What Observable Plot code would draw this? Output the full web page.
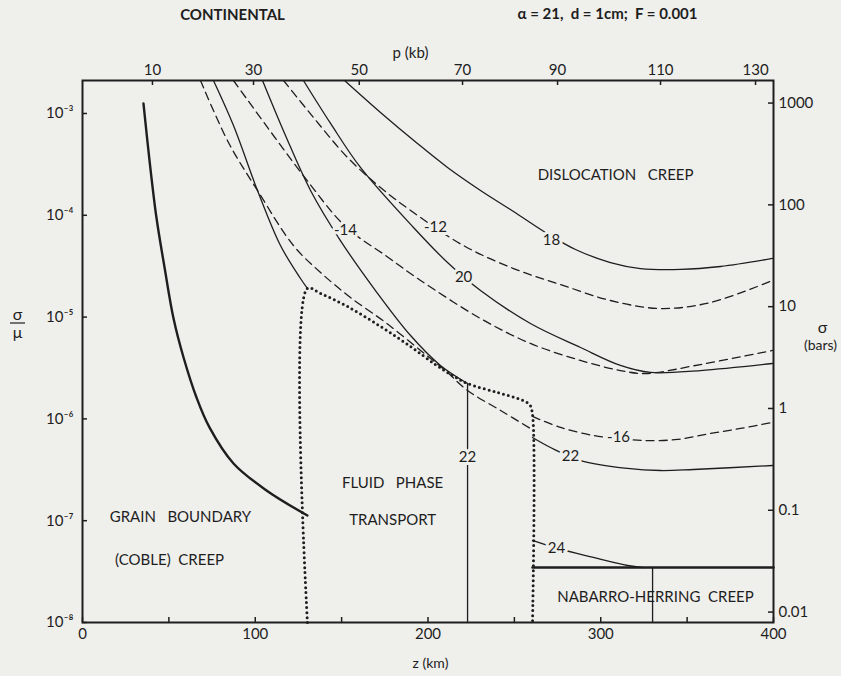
<!DOCTYPE html>
<html><head><meta charset="utf-8">
<script src="https://cdn.jsdelivr.net/npm/d3@7"></script>
<script src="https://cdn.jsdelivr.net/npm/@observablehq/plot@0.6"></script>
<style>
html,body{margin:0;padding:0;background:#efefec;}
#chart svg{display:block;}
</style></head><body><div id="chart"></div>
<script>
// ---------- axes / ticks ----------
const zTicks = [0, 100, 200, 300, 400];
const zMinorTicks = [50, 150, 250, 350];
const stressTicks = [1e-3, 1e-4, 1e-5, 1e-6, 1e-7, 1e-8];
const sigmaBarsTicks = [1000, 100, 10, 1, 0.1, 0.01];
const shearModulusBars = 7.9e5;                 // sigma(bars) = (sigma/mu) * mu
const pressureTicks = [10, 30, 50, 70, 90, 110, 130];          // p (kb)
const pressureTickDepths = [40.5, 99, 160.2, 220, 275, 334.6, 389.6]; // z (km)

// ---------- curves: [z (km), log10(sigma/mu)] ----------
const cobleBoundary = [[35.3,-2.902],[38.8,-3.462],[42.8,-4.022],[47.5,-4.513],[52.7,-5.014],[58.5,-5.397],[66.0,-5.790],[73.5,-6.084],[87.4,-6.438],[106.5,-6.703],[130.2,-6.949]];
const fluidBoundary = [[130.2,-8],[130.2,-4.719],[137.8,-4.768],[153.4,-4.896],[172.5,-5.092],[189.9,-5.289],[204.3,-5.466],[214.2,-5.574],[222.9,-5.652],[240.2,-5.741],[253.5,-5.809],[258.8,-5.859],[260.5,-5.957],[260.5,-8]];
const nabarroBoundary = [[260.5,-7.46],[400,-7.46]];
const nabarroTick = [[330,-7.46],[330,-8]];

const solid18 = [[151.7,-2.676],[172.5,-2.990],[193.9,-3.295],[211.3,-3.530],[230.4,-3.756],[249.5,-3.963],[268.0,-4.169],[285.4,-4.336],[305.6,-4.464],[323.0,-4.523],[346.2,-4.532],[369.3,-4.503],[399.4,-4.424]];
const solid20 = [[127.9,-2.676],[143.6,-3.098],[160.9,-3.530],[191.6,-4.120],[211.3,-4.464],[230.4,-4.739],[259.3,-5.063],[288.3,-5.299],[311.4,-5.475],[328.8,-5.544],[357.7,-5.525],[399.4,-5.456]];
const solid22 = [[104.2,-2.676],[117.5,-3.216],[132.0,-3.756],[149.3,-4.248],[169.6,-4.739],[189.9,-5.181],[207.2,-5.475],[222.9,-5.652]];
const solid22Fluid = [[222.9,-5.652],[222.9,-8]];
const solid22Right = [[260.5,-6.183],[270.9,-6.281],[288.3,-6.409],[315.5,-6.487],[334.6,-6.507],[353.7,-6.497],[399.4,-6.458]];
const solid24 = [[75.8,-2.676],[87.4,-3.118],[101.3,-3.756],[114.6,-4.297],[126.2,-4.621],[130.2,-4.719]];
const solid24Right = [[260.5,-7.194],[275.0,-7.273],[295.8,-7.361],[315.5,-7.440],[324.7,-7.460]];

const dashed12 = [[116.4,-2.676],[133.7,-3.039],[153.4,-3.432],[172.5,-3.727],[191.6,-3.973],[220.5,-4.297],[249.5,-4.523],[276.7,-4.680],[305.6,-4.837],[334.6,-4.916],[363.5,-4.857],[399.4,-4.640]];
const dashed14 = [[87.4,-2.676],[107.1,-3.137],[129.1,-3.638],[152.2,-4.110],[175.4,-4.395],[195.7,-4.640],[230.4,-5.014],[259.3,-5.259],[288.3,-5.426],[311.4,-5.525],[325.9,-5.554],[357.7,-5.466],[399.4,-5.328]];
const dashed16 = [[68.3,-2.676],[84.5,-3.285],[101.3,-3.756],[122.1,-4.297],[137.8,-4.562],[155.1,-4.807],[175.4,-5.053],[195.7,-5.328],[210.1,-5.525],[222.9,-5.721],[242.0,-5.917],[259.3,-6.094]];
const dashed16Right = [[260.5,-5.976],[276.7,-6.084],[295.8,-6.163],[310.3,-6.193],[324.7,-6.212],[344.4,-6.202],[363.5,-6.143],[380.9,-6.094],[399.4,-6.035]];

// ---------- labels: [z, log10(sigma/mu), text] ----------
const contourLabels = [[271.5,-4.248,"18"],[220.6,-4.611,"20"],[204.3,-4.120,"-12"],[152.2,-4.149,"-14"],[222.9,-6.379,"22"],[282.5,-6.369,"22"],[310.3,-6.183,"-16"],[274.4,-7.273,"24"]];
const regionLabels = [[308.6,-3.609,"DISLOCATION\u00a0\u00a0 CREEP"],[56.7,-6.969,"GRAIN\u00a0\u00a0 BOUNDARY"],[50.4,-7.391,"(COBLE)\u00a0\u00a0CREEP"],[179.5,-6.635,"FLUID\u00a0\u00a0 PHASE"],[179.5,-6.998,"TRANSPORT"],[331.7,-7.754,"NABARRO-HERRING\u00a0\u00a0CREEP"]];

// ---------- build ----------
const toRows = (pts, id) => pts.map(([z, l]) => ({z, s: 10 ** l, id}));
const solidRows = [
  ...toRows(solid18,"18"),...toRows(solid20,"20"),...toRows(solid22,"22"),...toRows(solid22Fluid,"22f"),
  ...toRows(solid22Right,"22r"),...toRows(solid24,"24"),...toRows(solid24Right,"24r"),...toRows(nabarroTick,"nt")];
const dashedRows = [...toRows(dashed12,"-12"),...toRows(dashed14,"-14"),...toRows(dashed16,"-16"),...toRows(dashed16Right,"-16r")];
const thickRows = toRows(cobleBoundary,"coble");
const nhRows = toRows(nabarroBoundary,"nh");
const dottedRows = toRows(fluidBoundary,"fluid");
const cLabels = contourLabels.map(([z,l,t]) => ({z, s: 10 ** l, t}));
const rLabels = regionLabels.map(([z,l,t]) => ({z, s: 10 ** l, t}));
const pTable = pressureTicks.map((p, i) => ({p, z: pressureTickDepths[i]}));
const sup = {"-":"\u207b","0":"\u2070","1":"\u00b9","2":"\u00b2","3":"\u00b3","4":"\u2074","5":"\u2075","6":"\u2076","7":"\u2077","8":"\u2078","9":"\u2079"};
const fmtPow = d => "10" + String(Math.round(Math.log10(d))).split("").map(c => sup[c]).join("");

const W = 841, H = 676, mL = 82, mR = 68, mT = 80, mB = 54;
const fw = W - mL - mR, fh = H - mT - mB;
const ink = "#1e1e1e", bg = "#efefec";
const F = "Lato, 'Open Sans', sans-serif";
const note = (txt, dx, dy, o = {}) => Plot.text([txt], {frameAnchor: "top-left", textAnchor: "middle", lineAnchor: "middle", dx, dy, fill: ink, fontSize: 14, ...o});

const chart = Plot.plot({
  width: W, height: H, marginLeft: mL, marginRight: mR, marginTop: mT, marginBottom: mB,
  style: {fontFamily: F, fontSize: "14px", background: bg, color: ink},
  x: {domain: [0, 400], axis: null},
  y: {type: "log", domain: [1e-8, 10 ** -2.676], axis: null},
  marks: [
    Plot.line(dottedRows, {x: "z", y: "s", z: "id", stroke: ink, strokeWidth: 3, strokeDasharray: "0,5", strokeLinecap: "round", curve: "catmull-rom"}),
    Plot.line(dashedRows, {x: "z", y: "s", z: "id", stroke: ink, strokeWidth: 1.3, strokeDasharray: "8,5", curve: "catmull-rom", clip: true}),
    Plot.line(solidRows, {x: "z", y: "s", z: "id", stroke: ink, strokeWidth: 1.3, curve: "catmull-rom", clip: true}),
    Plot.line(thickRows, {x: "z", y: "s", stroke: ink, strokeWidth: 2.4, curve: "catmull-rom"}),
    Plot.line(nhRows, {x: "z", y: "s", stroke: ink, strokeWidth: 2.6}),
    Plot.text(cLabels, {x: "z", y: "s", text: "t", fill: ink, stroke: bg, strokeWidth: 6, paintOrder: "stroke", fontSize: 15}),
    Plot.text(rLabels, {x: "z", y: "s", text: "t", fill: ink, fontSize: 15, ariaLabel: "region"}),
    Plot.frame({stroke: ink, strokeWidth: 2}),
    // inward ticks
    Plot.tickX([...zTicks, ...zMinorTicks], {x: d => d, stroke: ink, strokeWidth: 1.5, insetTop: fh - 5}),
    Plot.tickX(pTable, {x: "z", stroke: ink, strokeWidth: 1.5, insetBottom: fh - 5}),
    Plot.tickY(stressTicks, {y: d => d, stroke: ink, strokeWidth: 1.5, insetRight: fw - 5}),
    Plot.tickY(sigmaBarsTicks, {y: d => d / shearModulusBars, stroke: ink, strokeWidth: 1.5, insetLeft: fw - 5}),
    // tick labels
    Plot.text(zTicks, {x: d => d, text: d => String(d), frameAnchor: "bottom", lineAnchor: "middle", dy: 12, fill: ink, fontSize: 15}),
    Plot.text(pTable, {x: "z", text: d => String(d.p), frameAnchor: "top", lineAnchor: "middle", dy: -10, fill: ink, fontSize: 15}),
    Plot.text(stressTicks, {y: d => d, text: fmtPow, frameAnchor: "left", dx: -9, textAnchor: "end", fill: ink, fontSize: 15}),
    Plot.text(sigmaBarsTicks, {y: d => d / shearModulusBars, text: d => String(d), frameAnchor: "right", dx: 5, textAnchor: "start", fill: ink, fontSize: 15}),
    // axis titles and headings
    note("z (km)", 348, fh + 41),
    note("p (kb)", 328, -27, {fontSize: 15}),
    note("CONTINENTAL", 150, -65, {fontSize: 15, fontWeight: "bold", ariaLabel: "title"}),
    note("\u03b1 = 21,  d = 1cm;  F = 0.001", 525, -66, {fontSize: 15, fontWeight: "bold"}),
    note("\u03c3", -65, 234, {fontSize: 16}),
    note("\u03bc", -65, 252, {fontSize: 16}),
    note("\u03c3", fw + 49, 247, {fontSize: 16}),
    note("(bars)", fw + 47, 265)
  ]
});
const svg = d3.select(chart);
svg.selectAll('g[aria-label="region"] text').style("letter-spacing", "1.3px");
svg.selectAll('g[aria-label="title"] text').style("letter-spacing", "0.5px");
svg.selectAll('text').style("white-space", "pre");
// fraction bar of sigma/mu
svg.append("line").attr("x1", 10).attr("x2", 25).attr("y1", mT + 243).attr("y2", mT + 243).attr("stroke", ink).attr("stroke-width", 1.2);
document.getElementById("chart").append(chart);
</script>
</body></html>
